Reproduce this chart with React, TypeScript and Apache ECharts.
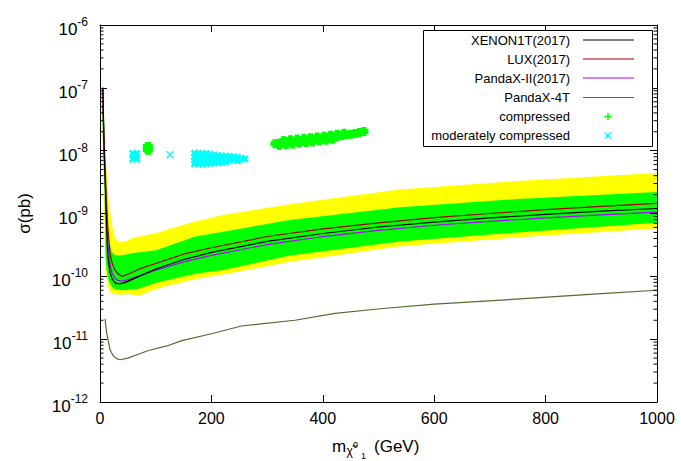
import React, { useEffect, useRef } from 'react';
import * as echarts from 'echarts';

const FONT = '"Liberation Sans", Arial, Helvetica, sans-serif';

// exclusion limits (mass in GeV, sigma in pb)
const limitMass = [5, 6, 7, 8, 10, 12, 14, 18, 22, 27, 32, 40, 50, 70, 100, 150, 200, 300, 400, 500, 600, 700, 800, 900, 1000];
const xenon1t = [1e-7, 3.5e-8, 1.5e-8, 7e-9, 2.0e-9, 6.0e-10, 2.1e-10, 1.15e-10, 9.0e-11, 7.9e-11, 7.6e-11, 7.7e-11, 8.3e-11, 1.0e-10, 1.3e-10, 1.85e-10, 2.4e-10, 3.6e-10, 4.8e-10, 6.1e-10, 7.3e-10, 8.5e-10, 9.7e-10, 1.09e-9, 1.2e-9];
const lux = [1e-7, 4e-8, 2e-8, 1e-8, 3.5e-9, 1.3e-9, 6e-10, 2.3e-10, 1.6e-10, 1.25e-10, 1.1e-10, 1.0e-10, 1.08e-10, 1.3e-10, 1.6e-10, 2.25e-10, 2.85e-10, 4.3e-10, 5.7e-10, 7.1e-10, 8.6e-10, 1.0e-9, 1.15e-9, 1.3e-9, 1.45e-9];
const pandax2 = [1e-7, 3.8e-8, 1.7e-8, 8e-9, 2.5e-9, 8e-10, 3.5e-10, 1.5e-10, 1.1e-10, 9.2e-11, 8.6e-11, 8.4e-11, 8.8e-11, 1.02e-10, 1.25e-10, 1.7e-10, 2.15e-10, 3.2e-10, 4.3e-10, 5.4e-10, 6.5e-10, 7.5e-10, 8.5e-10, 9.5e-10, 1.05e-9];

const pandax4tMass = [9, 12, 18, 24, 30, 36, 50, 70, 87, 120, 147, 200, 254, 350, 422, 503, 600, 754, 900, 1000];
const pandax4t = [2.1e-11, 1.26e-11, 6.8e-12, 5.4e-12, 4.9e-12, 4.7e-12, 5.0e-12, 5.8e-12, 6.6e-12, 7.8e-12, 9.5e-12, 1.22e-11, 1.62e-11, 2.0e-11, 2.57e-11, 3.05e-11, 3.6e-11, 4.37e-11, 5.3e-11, 6.0e-11];

// XENON1T sensitivity bands
const yellowUpperMass = [3, 6, 9, 12, 14, 17, 21, 26, 33, 45, 60, 101, 162, 221, 341, 450, 539, 750, 1000];
const yellowUpper = [1e-7, 4e-8, 1.2e-8, 4.5e-9, 2.4e-9, 1.3e-9, 7e-10, 4.3e-10, 3.6e-10, 3.6e-10, 4.1e-10, 4.9e-10, 7.1e-10, 9.5e-10, 1.4e-9, 1.9e-9, 2.4e-9, 3.3e-9, 4.4e-9];
const yellowLowerMass = [3, 5, 7, 9, 11, 14, 18, 25, 40, 51, 69, 101, 171, 221, 341, 539, 750, 1000];
const yellowLower = [1e-7, 1.26e-8, 2.4e-9, 2.5e-10, 1.12e-10, 7.1e-11, 5.6e-11, 5.25e-11, 5.1e-11, 5.25e-11, 4.9e-11, 6.3e-11, 9.1e-11, 1.07e-10, 1.7e-10, 3.0e-10, 4.17e-10, 5.75e-10];
const greenUpperMass = [3, 6, 9, 11, 13, 16, 20, 25, 33, 45, 60, 101, 171, 221, 341, 539, 750, 1000];
const greenUpper = [1e-7, 2.5e-8, 5e-9, 2.4e-9, 1e-9, 3.8e-10, 2.6e-10, 2.2e-10, 2.15e-10, 2.2e-10, 2.35e-10, 2.6e-10, 4.3e-10, 5.1e-10, 7.9e-10, 1.26e-9, 1.7e-9, 2.2e-9];
const greenLowerMass = [3, 5, 8, 10, 12, 15, 20, 27, 40, 68, 101, 171, 221, 341, 539, 750, 1000];
const greenLower = [1e-7, 1.6e-8, 2.4e-9, 2.1e-10, 1.26e-10, 8.9e-11, 7.1e-11, 6.2e-11, 6.0e-11, 6.3e-11, 7.9e-11, 1.1e-10, 1.26e-10, 2.14e-10, 3.6e-10, 5.0e-10, 7.1e-10];

// scan points
const compressedPts = [
  [85, 1.17e-8], [87, 1.16e-8], [86, 1.09e-8], [85, 1.03e-8], [87, 1.02e-8],
  [314, 1.29e-8], [322, 1.31e-8], [330, 1.34e-8], [338, 1.36e-8], [346, 1.38e-8], [354, 1.41e-8], [362, 1.43e-8],
  [370, 1.46e-8], [378, 1.48e-8], [386, 1.51e-8], [394, 1.54e-8], [402, 1.57e-8], [410, 1.61e-8], [418, 1.65e-8],
  [426, 1.69e-8], [434, 1.73e-8], [442, 1.78e-8], [450, 1.82e-8], [458, 1.87e-8], [466, 1.95e-8], [474, 2.02e-8],
  [330, 1.45e-8], [342, 1.49e-8], [354, 1.53e-8], [366, 1.57e-8], [378, 1.6e-8], [390, 1.65e-8], [402, 1.7e-8],
  [414, 1.76e-8], [426, 1.83e-8], [438, 1.9e-8],
  [322, 1.21e-8], [334, 1.25e-8], [346, 1.27e-8], [358, 1.31e-8], [370, 1.35e-8], [382, 1.38e-8], [394, 1.42e-8],
  [406, 1.47e-8], [418, 1.52e-8],
];
const moderatePts = [
  [59, 9.0e-9], [59, 7.4e-9], [66, 9.0e-9], [66, 7.4e-9], [62, 8.2e-9],
  [126, 8.6e-9],
  [170, 9.12e-9], [170, 7.94e-9], [170, 6.92e-9], [170, 6.17e-9],
  [177, 9.12e-9], [177, 7.94e-9], [177, 6.92e-9], [177, 6.17e-9],
  [184, 9.0e-9], [184, 7.9e-9], [184, 6.9e-9], [184, 6.1e-9],
  [191, 8.9e-9], [191, 7.8e-9], [191, 6.85e-9], [191, 6.2e-9],
  [198, 8.7e-9], [198, 7.7e-9], [198, 6.8e-9], [198, 6.3e-9],
  [205, 8.5e-9], [205, 7.5e-9], [205, 6.5e-9],
  [212, 8.3e-9], [212, 7.3e-9], [212, 6.45e-9],
  [219, 8.2e-9], [219, 7.25e-9], [219, 6.5e-9],
  [226, 8.1e-9], [226, 7.2e-9], [226, 6.6e-9],
  [233, 8.05e-9], [233, 7.15e-9],
  [240, 8.0e-9], [240, 7.15e-9],
  [247, 7.8e-9], [247, 7.0e-9],
  [254, 7.5e-9], [260, 7.35e-9],
];

const minorMultipliers = [2, 3, 4, 5, 6, 7, 8, 9];
const decades = [-12, -11, -10, -9, -8, -7];

const FAT_PLUS = 'path://M1.8,0L6.2,0L6.2,1.8L8,1.8L8,6.2L6.2,6.2L6.2,8L1.8,8L1.8,6.2L0,6.2L0,1.8L1.8,1.8Z';
const FAT_CROSS = 'path://M0,2L2,0L4,2L6,0L8,2L6,4L8,6L6,8L4,6L2,8L0,6L2,4Z';
const THIN_CROSS = 'path://M0,1L1,0L4,3L7,0L8,1L5,4L8,7L7,8L4,5L1,8L0,7L3,4Z';

const zip = (xs: number[], ys: number[]) => xs.map((x, i) => [x, ys[i]]);

export default function App() {
  const ref = useRef<HTMLDivElement>(null);
  useEffect(() => {
    document.body.style.margin = '0';
    const chart = echarts.init(ref.current!, null, { renderer: 'svg' });
    const minorTicks: number[][] = [];
    decades.forEach((e) => minorMultipliers.forEach((k) => minorTicks.push([0, k * Math.pow(10, e)])));

    const axisCommon = {
      axisLine: { show: true, onZero: false, lineStyle: { color: '#000', width: 1 } },
      axisTick: { show: true, inside: true, length: 7, lineStyle: { color: '#000', width: 1 } },
      splitLine: { show: false },
      z: 10,
    };

    const legendRows = [
      { name: 'XENON1T(2017)', y: 40, color: '#000000' },
      { name: 'LUX(2017)', y: 59, color: '#a00000' },
      { name: 'PandaX-II(2017)', y: 78, color: '#b000ff' },
      { name: 'PandaX-4T', y: 97.5, color: '#556b2f' },
    ];
    const graphics: any[] = [
      { type: 'rect', z: 100, shape: { x: 423.5, y: 30.5, width: 229, height: 116 }, style: { fill: '#fff', stroke: '#000', lineWidth: 1 } },
    ];
    legendRows.forEach((r) => {
      graphics.push({ type: 'text', z: 101, style: { text: r.name, x: 570, y: r.y, textAlign: 'right', textVerticalAlign: 'middle', font: `13px ${FONT}`, fill: '#000' } });
      graphics.push({ type: 'line', z: 101, shape: { x1: 583, y1: r.y, x2: 634, y2: r.y }, style: { stroke: r.color, lineWidth: 1.2 } });
    });
    graphics.push({ type: 'text', z: 101, style: { text: 'compressed', x: 570, y: 116.5, textAlign: 'right', textVerticalAlign: 'middle', font: `13px ${FONT}`, fill: '#000' } });
    graphics.push({ type: 'line', z: 101, shape: { x1: 604.5, y1: 116.5, x2: 611.5, y2: 116.5 }, style: { stroke: '#00ff00', lineWidth: 1.5 } });
    graphics.push({ type: 'line', z: 101, shape: { x1: 608, y1: 113, x2: 608, y2: 120 }, style: { stroke: '#00ff00', lineWidth: 1.5 } });
    graphics.push({ type: 'text', z: 101, style: { text: 'moderately compressed', x: 570, y: 135.5, textAlign: 'right', textVerticalAlign: 'middle', font: `13px ${FONT}`, fill: '#000' } });
    graphics.push({ type: 'line', z: 101, shape: { x1: 605, y1: 132.5, x2: 611, y2: 138.5 }, style: { stroke: '#00ffff', lineWidth: 1.5 } });
    graphics.push({ type: 'line', z: 101, shape: { x1: 611, y1: 132.5, x2: 605, y2: 138.5 }, style: { stroke: '#00ffff', lineWidth: 1.5 } });
    // x axis title: m_{chi~^0_1} (GeV)
    const t = (text: string, x: number, y: number, size: number) =>
      graphics.push({ type: 'text', z: 101, style: { text, x, y, textAlign: 'left', textVerticalAlign: 'middle', font: `${size}px ${FONT}`, fill: '#000' } });
    t('m', 332, 446, 17);
    t('χ̃', 346.5, 451, 12);
    t('0', 353, 444.5, 9);
    t('1', 361, 456, 9);
    t('(GeV)', 374, 446, 17);

    const option: any = {
      animation: false,
      backgroundColor: '#fff',
      textStyle: { fontFamily: FONT },
      grid: { left: 100, right: 24, top: 25, bottom: 59, show: false },
      xAxis: [
        {
          ...axisCommon, type: 'value', position: 'bottom', min: 0, max: 1000, interval: 200,
          axisLabel: { show: true, fontSize: 16, color: '#000', margin: 8, fontFamily: FONT, formatter: (v: number) => String(v) },
        },
        {
          ...axisCommon, type: 'value', position: 'top', min: 0, max: 1000, interval: 200,
          axisLabel: { show: false },
        },
      ],
      yAxis: [
        {
          ...axisCommon, type: 'log', logBase: 10, position: 'left', min: 1e-12, max: 1e-6, splitNumber: 6,
          name: 'σ(pb)', nameLocation: 'middle', nameGap: 67,
          nameTextStyle: { fontSize: 17, color: '#000', fontFamily: FONT },
          axisLabel: {
            show: true, margin: 12, color: '#000', fontFamily: FONT, fontSize: 17,
            formatter: (v: number) => `{b|10}{s|${Math.round(Math.log10(v))}}`,
            rich: {
              b: { fontSize: 17, lineHeight: 17, padding: [9, 0, 0, 0], fontFamily: FONT, color: '#000' },
              s: { fontSize: 12, lineHeight: 12, padding: [2, 0, 8, 0], fontFamily: FONT, color: '#000' },
            },
          },
        },
        {
          ...axisCommon, type: 'log', logBase: 10, position: 'right', min: 1e-12, max: 1e-6, splitNumber: 6,
          axisLabel: { show: false },
        },
      ],
      graphic: graphics,
      series: [
        {
          type: 'custom', name: 'bands', xAxisIndex: 0, yAxisIndex: 0, z: 1, silent: true,
          data: [[500, 1e-9]],
          renderItem: (_p: any, api: any) => {
            const poly = (ux: number[], uy: number[], lx: number[], ly: number[]) => {
              const pts: number[][] = [];
              ux.forEach((x, i) => pts.push(api.coord([x, uy[i]])));
              for (let i = lx.length - 1; i >= 0; i--) pts.push(api.coord([lx[i], ly[i]]));
              return pts;
            };
            return {
              type: 'group',
              children: [
                { type: 'polygon', shape: { points: poly(yellowUpperMass, yellowUpper, yellowLowerMass, yellowLower) }, style: { fill: '#ffff00' } },
                { type: 'polygon', shape: { points: poly(greenUpperMass, greenUpper, greenLowerMass, greenLower) }, style: { fill: '#00ff00' } },
              ],
            };
          },
        },
        { type: 'line', name: 'PandaX-4T', data: zip(pandax4tMass, pandax4t), showSymbol: false, smooth: false, z: 3, lineStyle: { color: '#556b2f', width: 1.2 } },
        { type: 'line', name: 'LUX(2017)', data: zip(limitMass, lux), showSymbol: false, z: 3, lineStyle: { color: '#a00000', width: 1.2 } },
        { type: 'line', name: 'PandaX-II(2017)', data: zip(limitMass, pandax2), showSymbol: false, z: 3, lineStyle: { color: '#b000ff', width: 1.2 } },
        { type: 'line', name: 'XENON1T(2017)', data: zip(limitMass, xenon1t), showSymbol: false, z: 3, lineStyle: { color: '#000000', width: 1.2 } },
        { type: 'scatter', name: 'compressed', data: compressedPts, symbol: FAT_PLUS, symbolSize: 9, z: 4, itemStyle: { color: '#00ff00', opacity: 1 } },
        {
          type: 'scatter', name: 'moderately compressed', z: 4, symbolSize: 8, itemStyle: { color: '#00ffff', opacity: 1 },
          data: moderatePts.map((p) => ({ value: p, symbol: p[0] === 126 ? THIN_CROSS : FAT_CROSS })),
        },
        {
          type: 'custom', name: 'minorTicks', xAxisIndex: 0, yAxisIndex: 0, z: 12, silent: true, clip: false,
          data: minorTicks,
          renderItem: (_p: any, api: any) => {
            const v = api.value(1);
            const a = api.coord([0, v]);
            const b = api.coord([1000, v]);
            return {
              type: 'group',
              children: [
                { type: 'line', shape: { x1: a[0], y1: a[1], x2: a[0] + 3.5, y2: a[1] }, style: { stroke: '#000', lineWidth: 1 } },
                { type: 'line', shape: { x1: b[0] - 3.5, y1: b[1], x2: b[0], y2: b[1] }, style: { stroke: '#000', lineWidth: 1 } },
              ],
            };
          },
        },
      ],
    };
    chart.setOption(option);
    return () => chart.dispose();
  }, []);
  return <div ref={ref} style={{ width: 681, height: 461 }} />;
}
